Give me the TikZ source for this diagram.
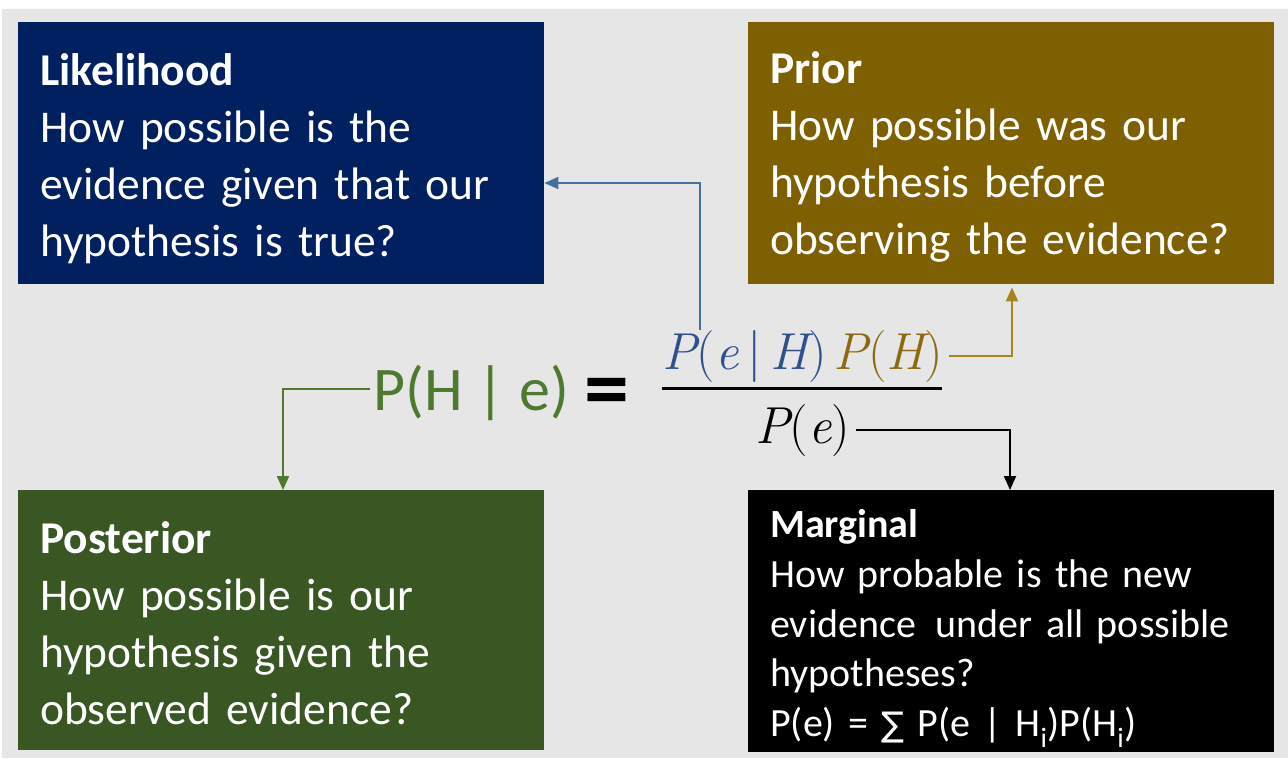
\documentclass[tikz,border=0pt]{standalone}
\usepackage{fontspec}
\setmainfont{Carlito}
\newfontfamily\symfont{DejaVu Sans}
\newfontfamily\eqfont{Latin Modern Roman}
\usetikzlibrary{arrows.meta,calc}

\definecolor{bgGray}{HTML}{E6E6E6}
\definecolor{likBlue}{HTML}{002060}
\definecolor{priGold}{HTML}{7F6000}
\definecolor{postGreen}{HTML}{385723}
\definecolor{lineBlue}{HTML}{41719C}
\definecolor{lineGold}{HTML}{A8841C}
\definecolor{lineGreen}{HTML}{4E7A2F}
\definecolor{numBlue}{HTML}{2F4F8F}
\definecolor{numGold}{HTML}{8B6A10}

% italic variable, upright punctuation
\newcommand{\vv}[1]{{\itshape #1}}

\begin{document}
\begin{tikzpicture}[x=1pt,y=-1pt,
  panel/.style={anchor=north west, minimum width=526pt, inner sep=0pt},
  cardtext/.style={anchor=west, text width=482pt, inner sep=0pt, align=left,
    text=white, font=\fontsize{45.5}{57}\selectfont},
  smalltext/.style={cardtext, font=\fontsize{40}{49.5}\selectfont},
  formula/.style={inner sep=0pt, anchor=base west},
  eqtext/.style={formula, font=\eqfont\fontsize{52}{52}\selectfont},
  link/.style={line width=2pt, -{Triangle[length=14pt,width=12pt]}},
]
% canvas
\fill[white] (0,0) rectangle (1288,758);
\fill[bgGray] (2,9) rectangle (1288,758);
\useasboundingbox (0,0) rectangle (1288,758);

% the four boxes
\node[panel, fill=likBlue, minimum height=262pt] (lik) at (18,22) {};
\node[panel, fill=priGold, minimum height=262pt] (pri) at (748,22) {};
\node[panel, fill=postGreen, minimum height=260pt] (post) at (18,490) {};
\node[panel, fill=black, minimum height=262pt] (marg) at (748,490) {};

\node[cardtext] (likT) at ($(lik.west)+(22,5)$)
  {\textbf{Likelihood}\\How possible is the\\evidence given that our\\hypothesis is true?};
\node[cardtext] (priT) at ($(pri.west)+(22,4)$)
  {\textbf{Prior}\\How possible was our\\hypothesis before\\observing the evidence?};
\node[cardtext] (postT) at ($(post.west)+(22,3)$)
  {\textbf{Posterior}\\How possible is our\\hypothesis given the\\observed evidence?};
\node[smalltext] (margT) at ($(marg.west)+(22,7)$)
  {\textbf{Marginal}\\[1pt]How probable is the new\\evidence\, under all possible\\hypotheses?\\
   P(e) = {\symfont\fontsize{34}{40}\selectfont ∑} P(e | H\textsubscript{i})P(H\textsubscript{i})};

% Bayes' rule
\node[formula, text=lineGreen, font=\fontsize{62}{62}\selectfont] (lhs) at (373,410)
  {P(H | e)};
\node[formula, font=\fontsize{90}{90}\selectfont] (eq) at (584,418) {\textbf{=}};
\node[eqtext, text=numBlue] (numL) at (662,369) {\vv{P}(\vv{e}\,|\,\vv{H})};
\node[eqtext, text=numGold] (numR) at ($(numL.base east)+(7,0)$) {\vv{P}(\vv{H})};
\node[eqtext] (den) at (755,443) {\vv{P}(\vv{e})};
\draw[line width=3pt] (662,388) -- (942,388);

% connectors
\draw[link, lineBlue] ($(numL.north west)+(38,0)$) |- ($(lik.north east)+(0,161)$);
\draw[link, lineGold] ($(numR.east)+(6,0)$) -| ($(pri.south west)+(264,3)$);
\draw[link, black] ($(den.east)+(6,0)$) -| (marg.north -| 1010,0);
\draw[link, lineGreen] ($(lhs.west)+(-3,-3)$) -| (post.north -| 283,0);
\end{tikzpicture}
\end{document}
